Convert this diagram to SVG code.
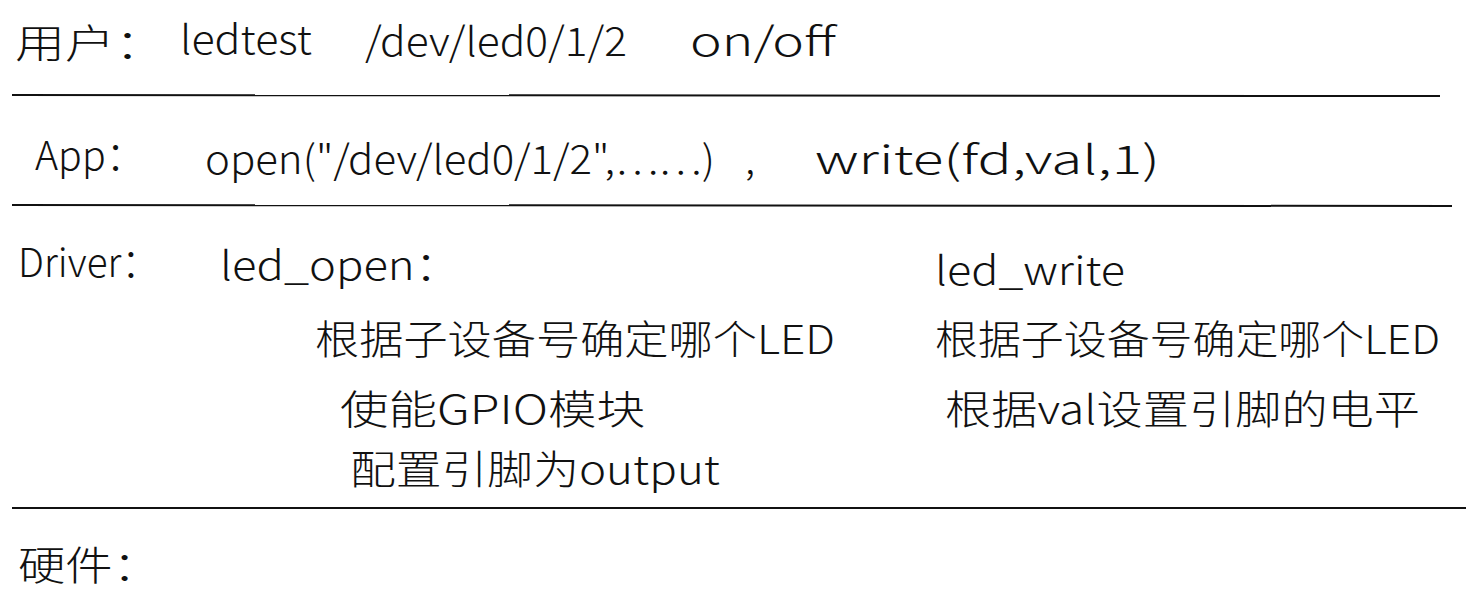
<svg xmlns="http://www.w3.org/2000/svg" width="1470" height="599" viewBox="0 0 1470 599">
<style>
text{font-family:"Noto Sans CJK SC","Noto Sans",sans-serif;font-size:40px;fill:#111;font-weight:300}
line{stroke:#111;stroke-width:2}
</style>
<rect width="1470" height="599" fill="#fff"/>
<g id="connectors">
<line x1="12" y1="95" x2="1440" y2="96"/>
<line x1="12" y1="205" x2="1452" y2="206"/>
<line x1="12" y1="508" x2="1466" y2="508"/>
</g>
<g id="user">
<text x="15" y="58" textLength="150" lengthAdjust="spacingAndGlyphs">用户：</text>
<text x="180" y="54" textLength="132" lengthAdjust="spacingAndGlyphs">ledtest</text>
<text x="365" y="56" textLength="262" lengthAdjust="spacingAndGlyphs">/dev/led0/1/2</text>
<text x="690" y="56" textLength="146" lengthAdjust="spacingAndGlyphs">on/off</text>
</g>
<g id="app">
<text x="35" y="170" textLength="110" lengthAdjust="spacingAndGlyphs">App：</text>
<text x="205" y="174" textLength="510" lengthAdjust="spacingAndGlyphs">open("/dev/led0/1/2",……)</text>
<text x="745" y="174">,</text>
<text x="815" y="174" textLength="345" lengthAdjust="spacingAndGlyphs">write(fd,val,1)</text>
</g>
<g id="driver">
<text x="18" y="277" textLength="142" lengthAdjust="spacingAndGlyphs">Driver：</text>
<text x="220" y="280" textLength="240" lengthAdjust="spacingAndGlyphs">led_open：</text>
<text x="935" y="285" textLength="190" lengthAdjust="spacingAndGlyphs">led_write</text>
<text x="315" y="354" textLength="520" lengthAdjust="spacingAndGlyphs">根据子设备号确定哪个LED</text>
<text x="340" y="424" textLength="305" lengthAdjust="spacingAndGlyphs">使能GPIO模块</text>
<text x="350" y="484" textLength="370" lengthAdjust="spacingAndGlyphs">配置引脚为output</text>
<text x="935" y="354" textLength="505" lengthAdjust="spacingAndGlyphs">根据子设备号确定哪个LED</text>
<text x="945" y="424" textLength="475" lengthAdjust="spacingAndGlyphs">根据val设置引脚的电平</text>
</g>
<g id="hardware">
<text x="18" y="580" textLength="142" lengthAdjust="spacingAndGlyphs">硬件：</text>
</g>
</svg>
